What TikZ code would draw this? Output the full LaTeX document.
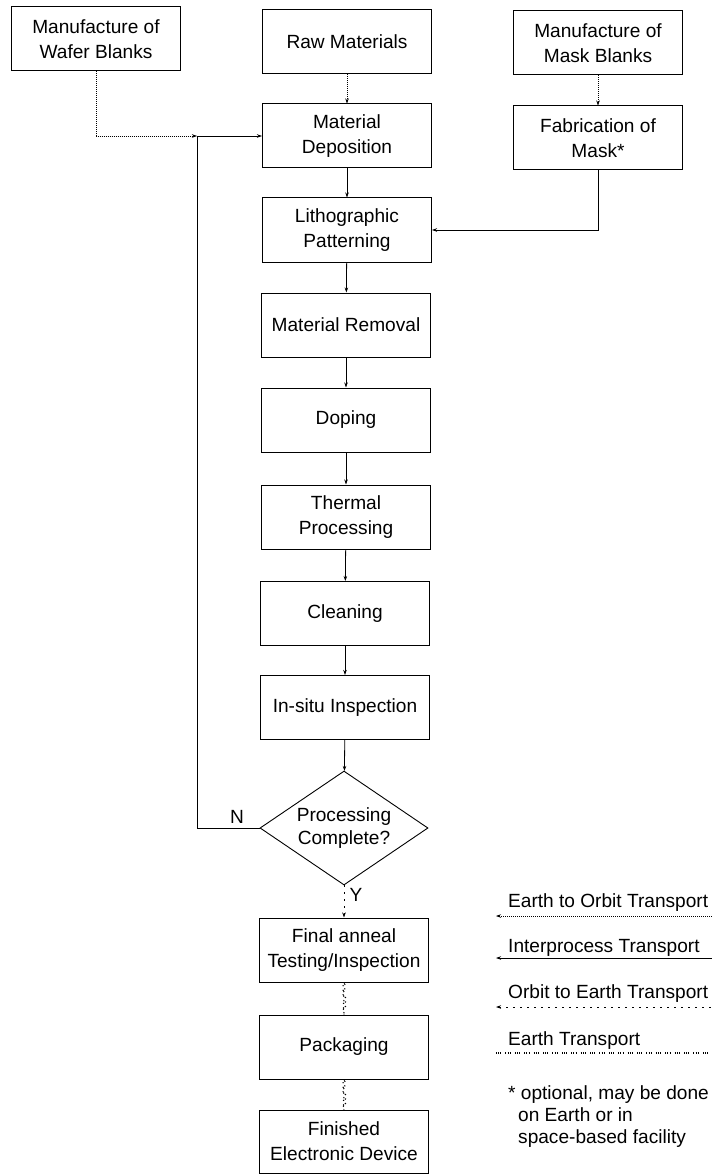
\documentclass[tikz,border=0pt]{standalone}
\usepackage{fontspec}
\setmainfont{Liberation Sans}
\usetikzlibrary{arrows.meta, shapes.geometric, decorations.pathmorphing}

\begin{document}
\begin{tikzpicture}[
  x=1pt, y=-1pt,
  box/.style={rectangle, draw=black, line width=1pt,
              minimum width=169pt, minimum height=64pt,
              font=\fontsize{19.1}{25}\selectfont, align=center, inner sep=2pt},
  decide/.style={diamond, draw=black, line width=0.9pt, aspect=1.47,
              minimum width=168pt, minimum height=114pt, inner sep=0pt,
              font=\fontsize{19.1}{23}\selectfont, align=center},
  lbl/.style={font=\fontsize{19.1}{22}\selectfont, inner sep=0pt},
  >={Stealth[length=5pt, width=3.5pt]},
  inter/.style={->, line width=0.8pt},
  toorbit/.style={->, line width=0.6pt, dash pattern=on 1pt off 1pt},
  toearth/.style={->, line width=1pt, dash pattern=on 1.5pt off 5.5pt},
  earth/.style={line width=1.1pt, dash pattern=on 1pt off 1.2pt on 1pt off 1.2pt on 1pt off 4pt},
  earthwave/.style={earth, decorate, decoration={snake, amplitude=1.4pt, segment length=4.5pt}}
]
  \useasboundingbox (0,0) rectangle (712,1174);

  \node[box] (wafer) at (96,39)    {Manufacture of\\Wafer Blanks};
  \node[box] (raw)   at (347,41.5) {Raw Materials};
  \node[box] (mblk)  at (598,43)   {Manufacture of\\Mask Blanks};
  \node[box] (dep)   at (347,136)  {Material\\Deposition};
  \node[box] (fmask) at (598,138)  {Fabrication of\\Mask*};
  \node[box] (litho) at (347,230)  {Lithographic\\Patterning};
  \node[box] (remov) at (346,325)  {Material Removal};
  \node[box] (dope)  at (346,420)  {Doping};
  \node[box] (therm) at (346,517)  {Thermal\\Processing};
  \node[box] (clean) at (345,613.5){Cleaning};
  \node[box] (insp)  at (345,707.5){In-situ Inspection};
  \node[decide] (done) at (344,828) {Processing\\Complete?};
  \node[box] (anneal) at (344,950) {Final anneal\\Testing/Inspection};
  \node[box] (pack)  at (344,1047) {Packaging};
  \node[box, minimum height=63pt] (fin) at (344,1141.5) {Finished\\Electronic Device};

  \node[lbl] (nlbl) at (237,817) {N};
  \node[lbl] (ylbl) at (356,895) {Y};

  \coordinate (jn) at (197,136);

  \draw[toorbit] (wafer.south) |- (jn);
  \draw[toorbit] (raw) -- (dep);
  \draw[toorbit] (mblk) -- (fmask);
  \draw[inter] (done.west) -| (jn) -- (dep.west);
  \draw[inter] (dep) -- (litho);
  \draw[inter] (fmask.south) |- (litho.east);
  \draw[inter] (litho) -- (remov);
  \draw[inter] (remov) -- (dope);
  \draw[inter] (dope) -- (therm);
  \draw[inter] (therm) -- (clean);
  \draw[inter] (clean) -- (insp);
  \draw[inter] (insp) -- (done);
  \draw[toearth] (done.south) -- (anneal);
  \draw[earthwave] (anneal) -- (pack);
  \draw[earthwave] (pack) -- (fin);

  % legend
  \coordinate (e2oa) at (496,916);  \coordinate (e2ob) at (712,916);
  \coordinate (ipa)  at (496,958);  \coordinate (ipb)  at (712,958);
  \coordinate (o2ea) at (496,1007); \coordinate (o2eb) at (712,1007);
  \coordinate (ea)   at (496,1053); \coordinate (eb)   at (712,1053);
  \node[lbl, anchor=base west] (e2o) at (508,907)  {Earth to Orbit Transport};
  \node[lbl, anchor=base west] (ip)  at (508,952)  {Interprocess Transport};
  \node[lbl, anchor=base west] (o2e) at (508,998)  {Orbit to Earth Transport};
  \node[lbl, anchor=base west] (et)  at (508,1045) {Earth Transport};
  \draw[toorbit, <-] (e2oa) -- (e2ob);
  \draw[inter, <-] (ipa) -- (ipb);
  \draw[toearth, <-] (o2ea) -- (o2eb);
  \draw[earth] (ea) -- (eb);

  \node[lbl, anchor=north west, align=left] (note) at (508,1085)
    {* optional, may be done\\\hspace*{10pt}on Earth or in\\\hspace*{10pt}space-based facility};
\end{tikzpicture}
\end{document}
